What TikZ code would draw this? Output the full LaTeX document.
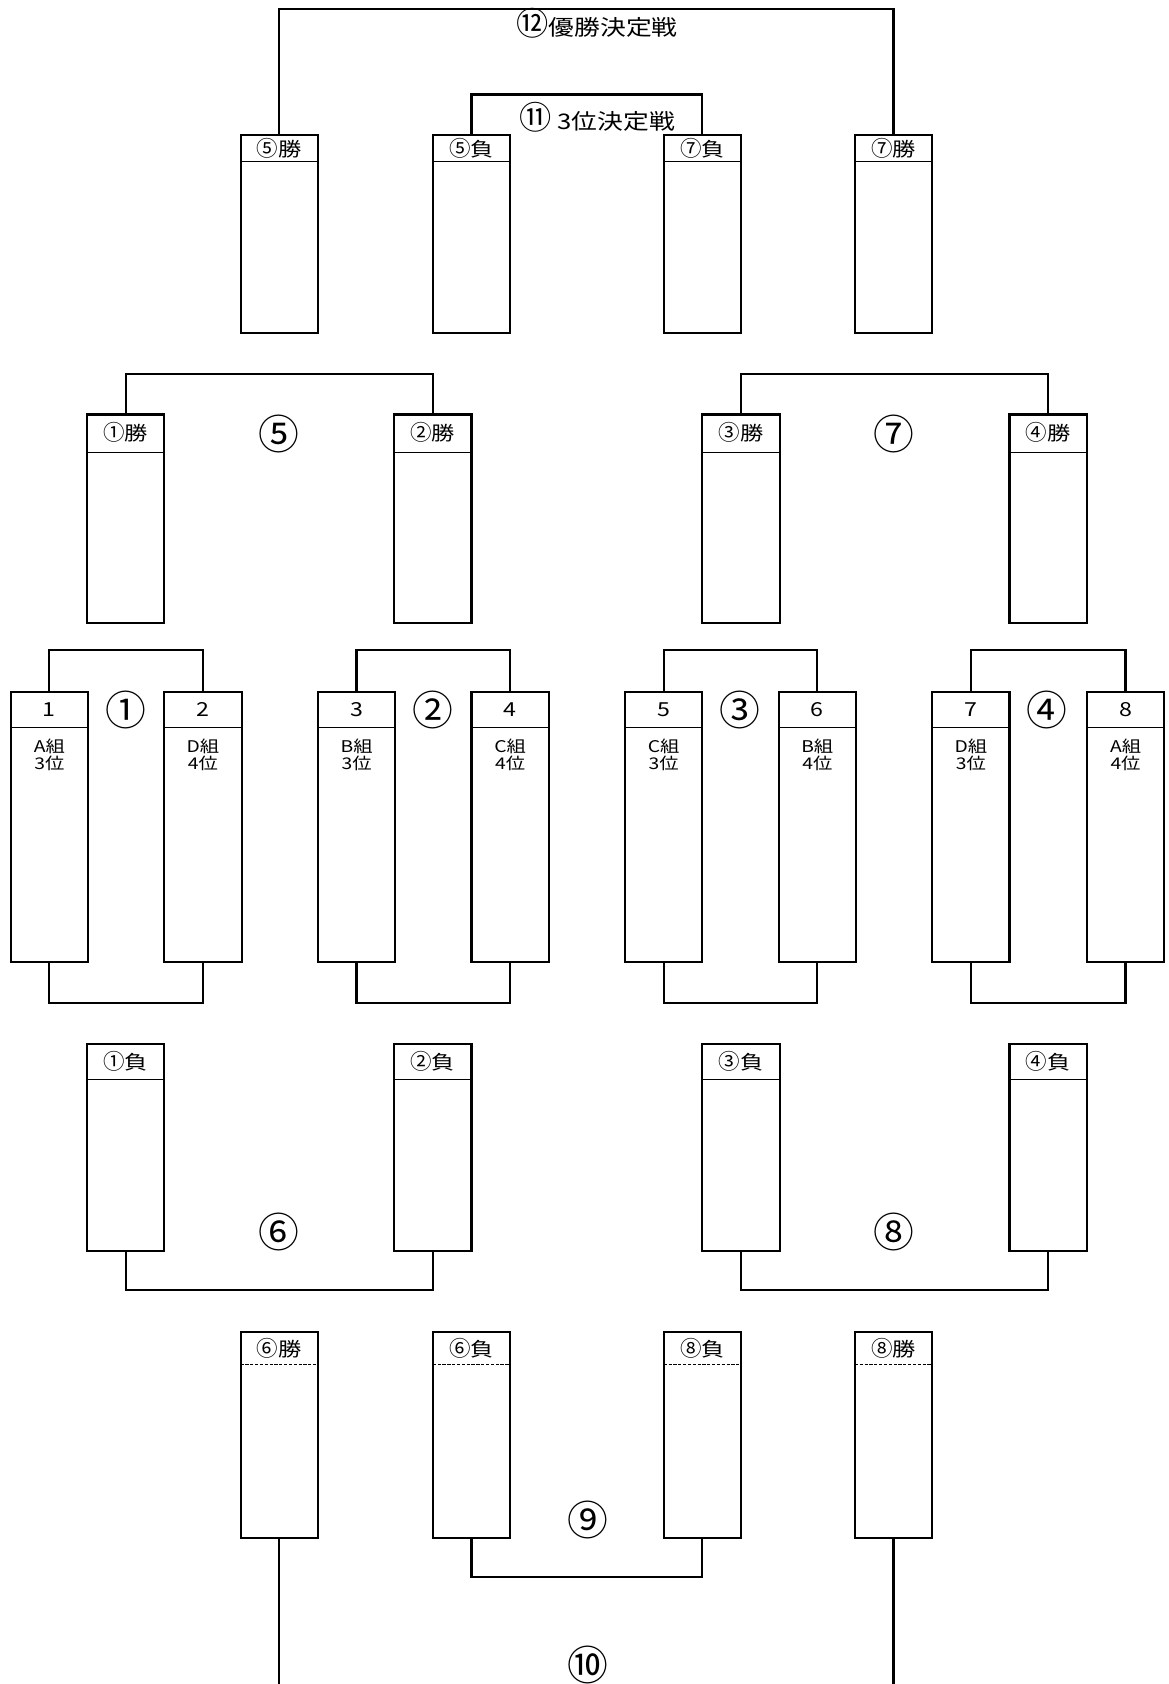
\documentclass[tikz,border=0pt]{standalone}
\usepackage{fontspec}
\newfontfamily\jp[FakeStretch=1.2]{Noto Sans CJK JP}
\newfontfamily\jpr{Noto Sans CJK JP}
\usetikzlibrary{positioning,calc}

\begin{document}
\begin{tikzpicture}[x=1pt,y=-1pt]
\tikzset{slot/.style={draw,line width=2pt,minimum width=72pt,inner sep=0pt,outer sep=0pt,anchor=north west},
         hdr/.style={font=\jp\fontsize{18}{18}\selectfont,inner sep=0pt},
         sub/.style={font=\jp\fontsize{15}{16}\selectfont,align=center,inner sep=0pt,anchor=north},
         rnd/.style={font=\jpr\fontsize{38}{38}\selectfont,inner sep=0pt},
         ttl/.style={font=\jp\fontsize{20}{20}\selectfont,inner sep=0pt},
         divide/.style={line width=0.8pt},
         bracket/.style={line width=2pt}}
\useasboundingbox (0,0) rectangle (1088,1568);

% final round
\foreach \n/\x/\r/\t in {t1/224/⑤/勝,t2/403/⑤/負,t3/618/⑦/負,t4/796/⑦/勝}{
  \node[slot,minimum height=184pt] (\n) at (\x,126) {};
  \draw[divide] ([yshift=-24pt]\n.north west) -- ([yshift=-24pt]\n.north east);
  \node[hdr] at ([yshift=-12pt]\n.north) {{\jpr\fontsize{20}{20}\selectfont\r}\t};
}
% semi final
\foreach \n/\x/\r in {w1/81/①,w2/367/②,w3/654/③,w4/940/④}{
  \node[slot,minimum height=194pt] (\n) at (\x,386) {};
  \draw[divide] ([yshift=-35pt]\n.north west) -- ([yshift=-35pt]\n.north east);
  \node[hdr] at ([yshift=-17pt]\n.north) {{\jpr\fontsize{20}{20}\selectfont\r}勝};
}
% first round
\foreach \i/\x/\g/\p in {1/10/A/3,2/153/D/4,3/296/B/3,4/439/C/4,5/582/C/3,6/725/B/4,7/868/D/3,8/1012/A/4}{
  \node[slot,minimum height=252pt] (e\i) at (\x,644) {};
  \draw[divide] ([yshift=-33pt]e\i.north west) -- ([yshift=-33pt]e\i.north east);
  \node[hdr] at ([yshift=-17pt]e\i.north) {\i};
  \node[sub] at ([yshift=-44pt]e\i.north) {\g 組\\\p 位};
}
% losers
\foreach \n/\x/\r in {l1/81/①,l2/367/②,l3/654/③,l4/940/④}{
  \node[slot,minimum height=193pt] (\n) at (\x,972) {};
  \draw[divide] ([yshift=-33pt]\n.north west) -- ([yshift=-33pt]\n.north east);
  \node[hdr] at ([yshift=-16pt]\n.north) {{\jpr\fontsize{20}{20}\selectfont\r}負};
}
% placement round
\foreach \n/\x/\r/\t in {b1/224/⑥/勝,b2/403/⑥/負,b3/618/⑧/負,b4/796/⑧/勝}{
  \node[slot,minimum height=192pt] (\n) at (\x,1240) {};
  \draw[divide,dashed,dash pattern=on 3pt off 1.5pt] ([yshift=-30pt]\n.north west) -- ([yshift=-30pt]\n.north east);
  \node[hdr] at ([yshift=-15pt]\n.north) {{\jpr\fontsize{20}{20}\selectfont\r}\t};
}
\coordinate (floor) at (547,1570);

% brackets
\draw[bracket] (t1.north) -- ++(0,-118) -| (t4.north);
\draw[bracket] (t2.north) -- ++(0,-38) -| (t3.north);
\draw[bracket] (w1.north) -- ++(0,-38) -| (w2.north);
\draw[bracket] (w3.north) -- ++(0,-38) -| (w4.north);
\draw[bracket] (e1.north) -- ++(0,-39) -| (e2.north);
\draw[bracket] (e3.north) -- ++(0,-39) -| (e4.north);
\draw[bracket] (e5.north) -- ++(0,-39) -| (e6.north);
\draw[bracket] (e7.north) -- ++(0,-39) -| (e8.north);
\draw[bracket] (e1.south) -- ++(0,38) -| (e2.south);
\draw[bracket] (e3.south) -- ++(0,38) -| (e4.south);
\draw[bracket] (e5.south) -- ++(0,38) -| (e6.south);
\draw[bracket] (e7.south) -- ++(0,38) -| (e8.south);
\draw[bracket] (l1.south) -- ++(0,36) -| (l2.south);
\draw[bracket] (l3.south) -- ++(0,36) -| (l4.south);
\draw[bracket] (b2.south) -- ++(0,36) -| (b3.south);
\draw[bracket] (b1.south) -- (b1.south |- floor);
\draw[bracket] (b4.south) -- (b4.south |- floor);

% match numbers
\node[ttl] (m12) at (556,22) {{\jpr\fontsize{30}{30}\selectfont ⑫}優勝決定戦};
\node[ttl] (m11) at (556,109) {{\jpr\fontsize{30}{30}\selectfont ⑪}\ 3位決定戦};
\node[rnd] (m5) at (260,404) {⑤};
\node[rnd] (m7) at (832,404) {⑦};
\node[rnd] (m1) at (117,661) {①};
\node[rnd] (m2) at (403,661) {②};
\node[rnd] (m3) at (689,661) {③};
\node[rnd] (m4) at (975,661) {④};
\node[rnd] (m6) at (260,1147) {⑥};
\node[rnd] (m8) at (832,1147) {⑧};
\node[rnd] (m9) at (547,1415) {⑨};
\node[rnd] (m10) at (547,1550) {⑩};
\end{tikzpicture}
\end{document}
